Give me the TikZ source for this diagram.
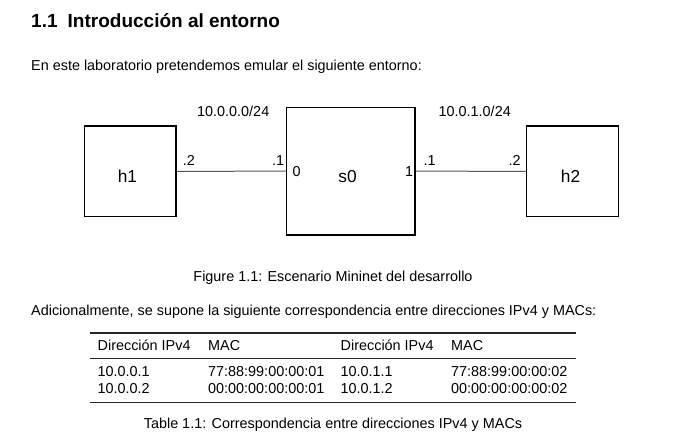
\documentclass[tikz,border=0pt]{standalone}
\usepackage{fontspec}
\setmainfont{Liberation Sans}
\begin{document}
\begin{tikzpicture}[x=1pt,y=-1pt,
  txt/.style={inner sep=0pt, anchor=base west, font=\fontsize{14.4}{17}\selectfont},
  ctxt/.style={txt, anchor=base},
  head/.style={inner sep=0pt, anchor=base west, font=\fontsize{19}{23}\selectfont\bfseries},
  box/.style={draw=black, line width=1.5pt, inner sep=0pt},
  big/.style={inner sep=0pt, anchor=base, font=\fontsize{17.3}{20}\selectfont},
  link/.style={draw=black!65, line width=1pt},
  heavyrule/.style={draw=black!85, line width=1.2pt},
  lightrule/.style={draw=black!85, line width=0.8pt}]
\useasboundingbox (0,0) rectangle (693,437);

% heading and text
\node[head] (num) at (31,27.3) {1.1};
\node[head] (hd) at (67.5,27.3) {Introducción al entorno};
\node[txt] (p1) at (31,70.7) {En este laboratorio pretendemos emular el siguiente entorno:};

% boxes
\node[box, minimum width=91.3pt, minimum height=90.7pt] (h1) at (130.35,171.35) {};
\node[box, minimum width=128.3pt, minimum height=127.7pt] (s0) at (350.85,171.15) {};
\node[box, minimum width=91.6pt, minimum height=90.7pt] (h2) at (572.5,171.35) {};
\node[big] (h1t) at (127.5,182) {h1};
\node[big] (s0t) at (347.5,182) {s0};
\node[big] (h2t) at (570.5,182) {h2};

% links
\draw[link] (h1.east) -- (s0.west);
\draw[link] (s0.east) -- (h2.west);

% labels
\node[txt] (n1) at (197,116) {10.0.0.0/24};
\node[txt] (n2) at (438.5,116) {10.0.1.0/24};
\node[txt] (a1) at (182.7,165) {.2};
\node[txt] (a2) at (272,165) {.1};
\node[txt] (p0) at (292.5,176) {0};
\node[txt] (p1n) at (405,176) {1};
\node[txt] (a3) at (423.5,165) {.1};
\node[txt] (a4) at (508.5,165) {.2};

% captions and paragraph
\node[ctxt] (cap1) at (333,281) {Figure 1.1: Escenario Mininet del desarrollo};
\node[txt] (p2) at (31,315) {Adicionalmente, se supone la siguiente correspondencia entre direcciones IPv4 y MACs:};

% table
\draw[heavyrule] (89.6,333) -- (576.4,333);
\draw[lightrule] (89.6,358.5) -- (576.4,358.5);
\draw[heavyrule] (89.6,402.3) -- (576.4,402.3);
\node[txt] (c1h) at (97.5,350.5) {Dirección IPv4};
\node[txt] (c2h) at (208,350.5) {MAC};
\node[txt] (c3h) at (340.5,350.5) {Dirección IPv4};
\node[txt] (c4h) at (451,350.5) {MAC};
\node[txt] (r1c1) at (97.5,376.5) {10.0.0.1};
\node[txt] (r1c2) at (208,376.5) {77:88:99:00:00:01};
\node[txt] (r1c3) at (340.5,376.5) {10.0.1.1};
\node[txt] (r1c4) at (451,376.5) {77:88:99:00:00:02};
\node[txt] (r2c1) at (97.5,393.3) {10.0.0.2};
\node[txt] (r2c2) at (208,393.3) {00:00:00:00:00:01};
\node[txt] (r2c3) at (340.5,393.3) {10.0.1.2};
\node[txt] (r2c4) at (451,393.3) {00:00:00:00:00:02};
\node[ctxt] (cap2) at (333,428) {Table 1.1: Correspondencia entre direcciones IPv4 y MACs};
\end{tikzpicture}
\end{document}
